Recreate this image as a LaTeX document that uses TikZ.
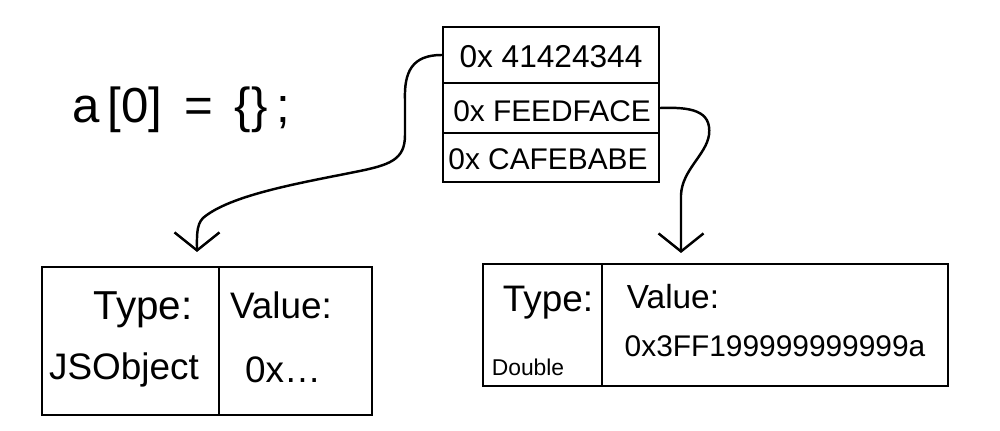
\documentclass[tikz,border=0pt]{standalone}
\usepackage{fontspec}
\setmainfont{Liberation Sans}
\usetikzlibrary{arrows.meta}
\begin{document}
\begin{tikzpicture}[x=0.02cm,y=-0.02cm,
  cell/.style={draw,line width=1.6pt,inner sep=0pt,anchor=center},
  txt/.style={inner sep=0pt,anchor=center},
  ptr/.style={line width=1.4pt,line cap=round,line join=round},
  barb/.style={-{Straight Barb[length=0.36cm,width=0.9cm,line width=1.4pt]}}]
\useasboundingbox (0,0) rectangle (1000,431);
% code line
\node[txt,font=\fontsize{28}{30}\selectfont] (code) at (181,110) {a\,[0]\, = \,\{\}\,;};
% memory stack
\node[cell,minimum width=4.32cm,minimum height=1.12cm] (r1) at (551,55) {};
\node[cell,minimum width=4.32cm,minimum height=1.0cm] (r2) at (551,108) {};
\node[cell,minimum width=4.32cm,minimum height=0.98cm] (r3) at (551,157.5) {};
\node[txt,font=\fontsize{18}{20}\selectfont] (t1) at (551,57) {0x 41424344};
\node[txt,font=\fontsize{17}{19}\selectfont] (t2) at (552,111) {0x FEEDFACE};
\node[txt,font=\fontsize{17}{19}\selectfont] (t3) at (548,159) {0x CAFEBABE};
% left object box
\node[cell,minimum width=3.54cm,minimum height=2.96cm] (ltype) at (130.5,341) {};
\node[cell,minimum width=3.06cm,minimum height=2.96cm] (lval) at (295.5,341) {};
\node[txt,font=\fontsize{23}{25}\selectfont] (lt1) at (143,310) {Type:};
\node[txt,font=\fontsize{21}{23}\selectfont] (lt2) at (124,370) {JSObject};
\node[txt,font=\fontsize{21}{23}\selectfont] (lv1) at (281,305) {Value:};
\node[txt,font=\fontsize{21}{23}\selectfont] (lv2) at (283,370) {0x\dots};
% right object box
\node[cell,minimum width=2.38cm,minimum height=2.44cm] (rtype) at (542.5,325) {};
\node[cell,minimum width=6.92cm,minimum height=2.44cm] (rval) at (775,325) {};
\node[txt,font=\fontsize{21}{23}\selectfont] (rt1) at (548,303) {Type:};
\node[txt,font=\fontsize{13}{15}\selectfont] (rt2) at (528,367) {Double};
\node[txt,font=\fontsize{19}{21}\selectfont] (rv1) at (673,297) {Value:};
\node[txt,font=\fontsize{17}{19}\selectfont] (rv2) at (775,346) {0x3FF199999999999a};
% pointer ends
\coordinate (tipA) at (197,252);
\coordinate (tipB) at (681,253);
% pointers
\draw[ptr,barb] (r1.west) .. controls (412,55) and (404,72) .. (405,100)
  -- (405,135) .. controls (405,160) and (390,165) .. (355,172)
  .. controls (300,183) and (230,195) .. (203,218)
  .. controls (196,225) and (197,238) .. (tipA);
\draw[ptr,barb] (r2.east) .. controls (690,107) and (712,110) .. (709,135)
  .. controls (706,155) and (682,170) .. (681,195) -- (tipB);
\end{tikzpicture}
\end{document}
